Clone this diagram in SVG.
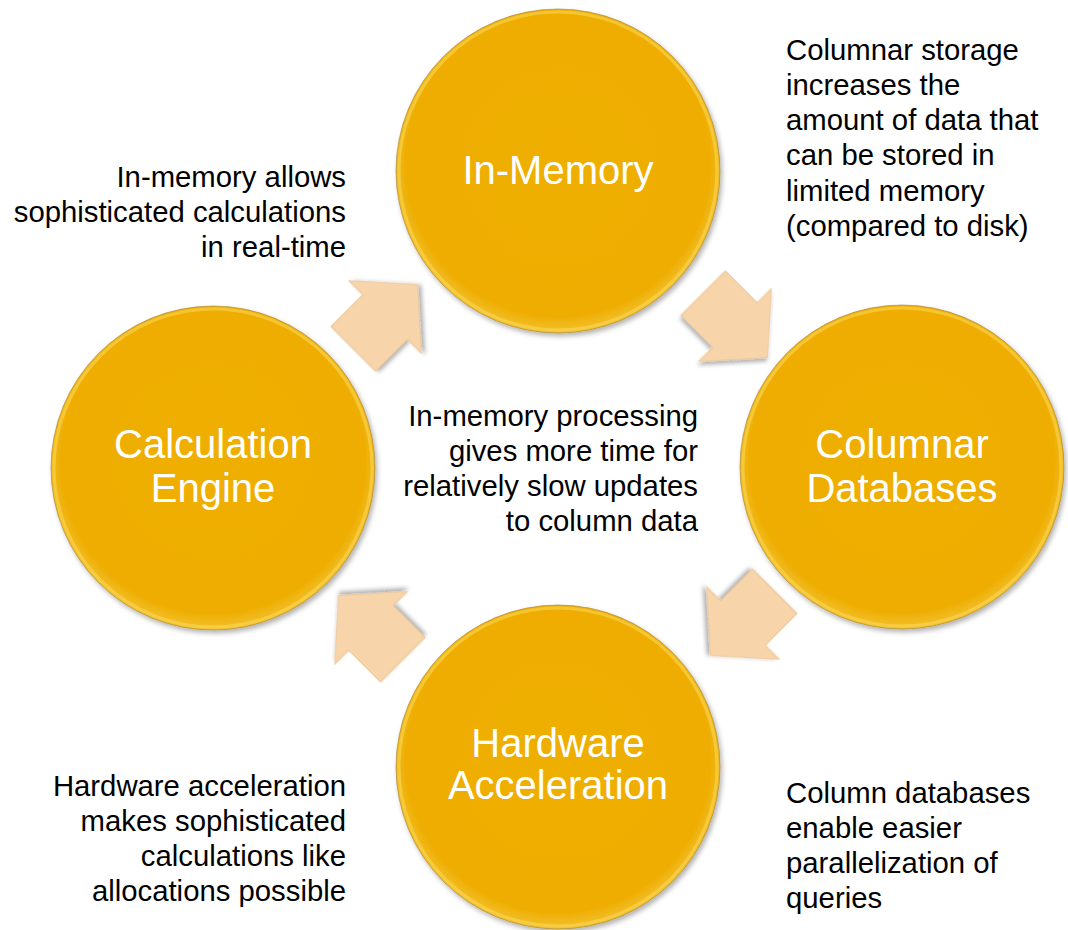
<svg xmlns="http://www.w3.org/2000/svg" width="1068" height="930" viewBox="0 0 1068 930">
<style>
.title{font-family:"Liberation Sans",Arial,sans-serif;font-size:40px;fill:#ffffff;text-anchor:middle}
.note{font-family:"Liberation Sans",Arial,sans-serif;font-size:29.3px;fill:#000000}
.end{text-anchor:end}
.disc{fill:url(#gold);stroke:#9c7a2a;stroke-opacity:0.55;stroke-width:1;filter:url(#shadow)}
.rim{fill:none;stroke:#fbd85a;stroke-width:3;stroke-opacity:0.55}
.arrow{fill:#f7d4aa;stroke:#e9bf8c;stroke-width:0.8;filter:url(#ashadow)}
</style>
<defs>
<radialGradient id="gold" cx="50%" cy="48%" r="52%">
<stop offset="0%" stop-color="#efaf00"/>
<stop offset="90%" stop-color="#eead00"/>
<stop offset="100%" stop-color="#f3c232"/>
</radialGradient>
<filter id="shadow" x="-10%" y="-10%" width="125%" height="125%">
<feDropShadow dx="2" dy="3" stdDeviation="2.5" flood-color="#000" flood-opacity="0.3"/>
</filter>
<filter id="ashadow" x="-20%" y="-20%" width="150%" height="150%">
<feDropShadow dx="2" dy="3" stdDeviation="2" flood-color="#000" flood-opacity="0.3"/>
</filter>
<polygon id="blk" points="-45,-31.5 0,-31.5 0,-51.5 46,0 0,51.5 0,31.5 -45,31.5"/>
</defs>
<rect width="1068" height="930" fill="#ffffff"/>

<g id="connectors">
<use href="#blk" class="arrow" transform="translate(385,317) rotate(-45)"/>
<use href="#blk" class="arrow" transform="translate(735,325) rotate(45)"/>
<use href="#blk" class="arrow" transform="translate(743,623) rotate(135)"/>
<use href="#blk" class="arrow" transform="translate(371,628) rotate(-135)"/>
</g>

<g id="node-in-memory">
<circle class="disc" cx="558" cy="171" r="162"/>
<circle class="rim" cx="558" cy="171" r="159"/>
<text class="title" x="558" y="184">In-Memory</text>
</g>
<g id="node-columnar">
<circle class="disc" cx="902" cy="467" r="162"/>
<circle class="rim" cx="902" cy="467" r="159"/>
<text class="title" x="902" y="458">Columnar</text>
<text class="title" x="902" y="502">Databases</text>
</g>
<g id="node-hardware">
<circle class="disc" cx="558" cy="767" r="162"/>
<circle class="rim" cx="558" cy="767" r="159"/>
<text class="title" x="558" y="757">Hardware</text>
<text class="title" x="558" y="799">Acceleration</text>
</g>
<g id="node-calc">
<circle class="disc" cx="213" cy="468" r="162"/>
<circle class="rim" cx="213" cy="468" r="159"/>
<text class="title" x="213" y="458">Calculation</text>
<text class="title" x="213" y="502">Engine</text>
</g>

<g id="note-top-left" class="note end">
<text x="346" y="187">In-memory allows</text>
<text x="346" y="222">sophisticated calculations</text>
<text x="346" y="257">in real-time</text>
</g>
<g id="note-top-right" class="note">
<text x="786" y="60">Columnar storage</text>
<text x="786" y="95">increases the</text>
<text x="786" y="130">amount of data that</text>
<text x="786" y="165">can be stored in</text>
<text x="786" y="200.5">limited memory</text>
<text x="786" y="236">(compared to disk)</text>
</g>
<g id="note-center" class="note end">
<text x="698" y="426">In-memory processing</text>
<text x="698" y="461">gives more time for</text>
<text x="698" y="496">relatively slow updates</text>
<text x="698" y="531">to column data</text>
</g>
<g id="note-bottom-left" class="note end">
<text x="346" y="796">Hardware acceleration</text>
<text x="346" y="831">makes sophisticated</text>
<text x="346" y="866">calculations like</text>
<text x="346" y="901">allocations possible</text>
</g>
<g id="note-bottom-right" class="note">
<text x="786" y="803">Column databases</text>
<text x="786" y="838">enable easier</text>
<text x="786" y="873">parallelization of</text>
<text x="786" y="908">queries</text>
</g>
</svg>
